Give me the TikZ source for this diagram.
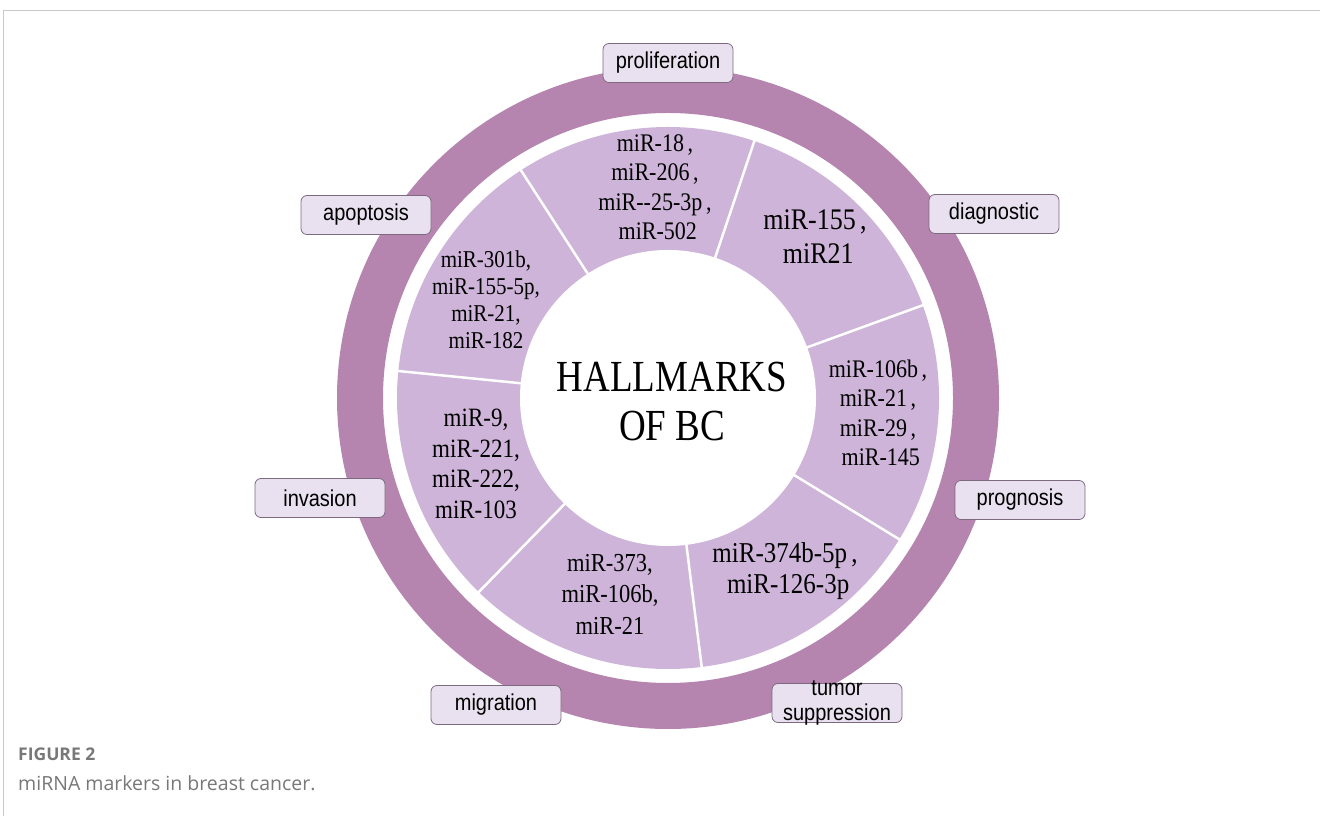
\documentclass[tikz,border=0pt]{standalone}
\usepackage{fontspec}
\usepackage{graphicx}
\setmainfont{Liberation Serif}
\newfontfamily\labfont{Liberation Sans}
\newfontfamily\capfont{Open Sans}
\definecolor{ringc}{RGB}{181,133,176}
\definecolor{sectc}{RGB}{205,180,216}
\definecolor{boxfill}{RGB}{233,225,239}
\definecolor{boxdraw}{RGB}{125,105,128}
\definecolor{framegray}{RGB}{200,200,200}
\definecolor{capgray}{RGB}{120,120,120}
\begin{document}
\begin{tikzpicture}[x=1pt,y=1pt,
  mir/.style={font=\fontsize{22}{25.6}\selectfont, align=center, yscale=1.15, inner sep=0pt},
  labbox/.style={draw=boxdraw, fill=boxfill, rounded corners=6pt, minimum width=130pt, minimum height=39pt, line width=0.8pt, inner sep=0pt, font=\labfont\fontsize{20}{23}\selectfont},
  labtxt/.style={inner sep=0pt, align=center, yscale=1.15, font=\labfont\fontsize{20}{21}\selectfont}]
\useasboundingbox (0,0) rectangle (1320,816);
\fill[white] (0,0) rectangle (1320,816);
\draw[framegray, line width=1pt] (1320,805) -- (3,805) -- (3,0);
\coordinate (C) at (668,418);
% outer ring
\fill[ringc, even odd rule] (C) circle (331pt) (C) circle (285pt);
% sector annulus
\fill[sectc] (C) circle (271pt);
\fill[white] (C) circle (148pt);
\foreach \k in {0,...,6} {
  \draw[white, line width=2.5pt] (C) ++({20+\k*360/7}:146pt) -- ++({20+\k*360/7}:127pt);
}
% sector texts
\node[mir] (sTop) at (655,629) {miR-18\,,\\miR-206\,,\\miR-{}-25-3p\,,\\\ miR-502};
\node[mir, font=\fontsize{26}{29.5}\selectfont] (sDiag) at (815,579) {miR-155\,,\\\ miR21};
\node[mir, font=\fontsize{22}{25.5}\selectfont] (sRight) at (878,403) {miR-106b\,,\\miR-21\,,\\miR-29\,,\\\ miR-145};
\node[mir, font=\fontsize{25}{27}\selectfont] (sBR) at (785,245) {miR-374b-5p\,,\\\ miR-126-3p};
\node[mir, font=\fontsize{22.5}{27.4}\selectfont] (sBL) at (610,222) {miR-373,\\miR-106b,\\miR-21};
\node[mir, font=\fontsize{23}{26.7}\selectfont] (sLeft) at (476,352) {miR-9,\\miR-221,\\miR-222,\\miR-103};
\node[mir, font=\fontsize{21}{23.5}\selectfont] (sTL) at (486,516) {miR-301b,\\miR-155-5p,\\miR-21,\\miR-182};
\node[mir, font=\fontsize{37}{40.8}\selectfont, yscale=1.2/1.15] (hall) at (672,414) {HALLMARKS\\OF BC};
% label boxes
\node[labbox] (prolif) at (668,753) {\scalebox{1}[1.15]{proliferation}};
\node[labbox] (diag) at (994,602) {\scalebox{1}[1.15]{diagnostic}};
\node[labbox] (apop) at (366,601) {\scalebox{1}[1.15]{apoptosis}};
\node[labbox] (inv) at (320,318) {\scalebox{1}[1.15]{invasion}};
\node[labbox] (prog) at (1020,316) {\scalebox{1}[1.15]{prognosis}};
\node[labbox] (migr) at (496,111) {\scalebox{1}[1.15]{migration}};
\node[labbox] (tumor) at (837,113) {};
\node[labtxt] (tumortxt) at (tumor.center) {tumor\\suppression};
% caption
\node[anchor=west, inner sep=0pt, text=capgray, font=\capfont\bfseries\fontsize{17.5}{20}\selectfont] (figlab) at (18,62) {FIGURE 2};
\node[anchor=west, inner sep=0pt, text=capgray, font=\capfont\fontsize{19.5}{23}\selectfont] (figcap) at (18,33) {miRNA markers in breast cancer.};
\end{tikzpicture}
\end{document}
